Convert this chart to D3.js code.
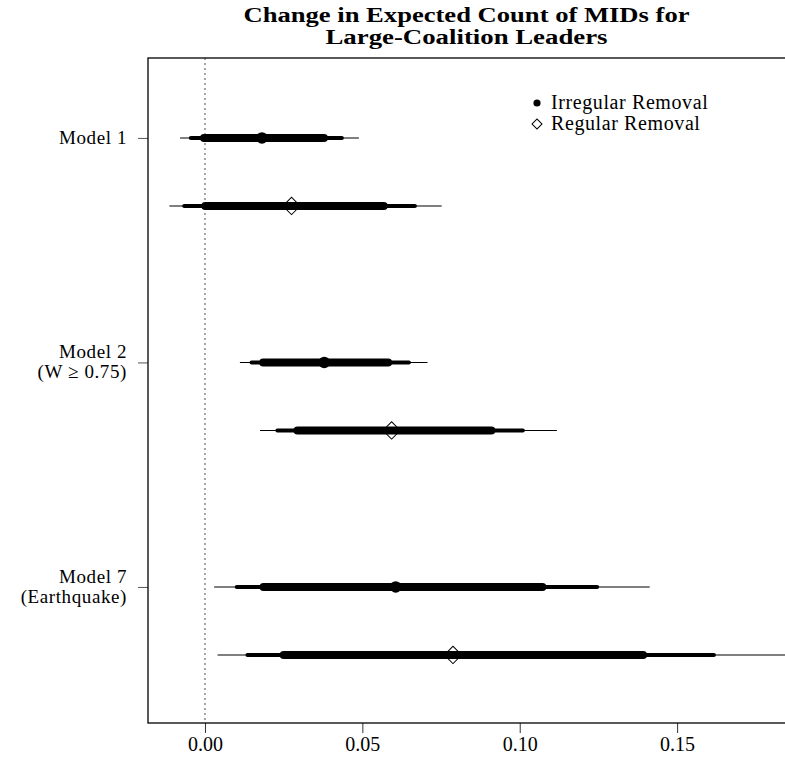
<!DOCTYPE html>
<html>
<head>
<meta charset="utf-8">
<script src="https://d3js.org/d3.v7.min.js"></script>
<style>
  body { margin: 0; background: #fff; }
  text { font-family: "Liberation Serif", "Times New Roman", serif; fill: #000; }
</style>
</head>
<body>
<div id="chart-area"></div>
<script>
//////////////////////////////////////////////
// Data //////////////////////////////////////
//////////////////////////////////////////////
var models = [["Model 1"], ["Model 2", "(W \u2265 0.75)"], ["Model 7", "(Earthquake)"]];
var xTicks = [0, 0.05, 0.10, 0.15];

// irregular removal (filled circle)
var irrPoint   = [0.0181, 0.0379, 0.0606];
var irrThinLo  = [-0.0079, 0.0111, 0.0029];
var irrThinHi  = [0.0489, 0.0707, 0.1413];
var irrMedLo   = [-0.0045, 0.0148, 0.0101];
var irrMedHi   = [0.0435, 0.0648, 0.1246];
var irrThickLo = [-0.0003, 0.0185, 0.0186];
var irrThickHi = [0.0378, 0.0582, 0.1072];

// regular removal (open diamond)
var regPoint   = [0.0275, 0.0593, 0.0788];
var regThinLo  = [-0.0113, 0.0175, 0.0040];
var regThinHi  = [0.0752, 0.1118, 0.1860];
var regMedLo   = [-0.0066, 0.0230, 0.0135];
var regMedHi   = [0.0667, 0.1010, 0.1617];
var regThickLo = [0.0001, 0.0294, 0.0250];
var regThickHi = [0.0568, 0.0910, 0.1392];

//////////////////////////////////////////////
// Chart Config /////////////////////////////
//////////////////////////////////////////////
var W = 785, H = 767;
var margin = {top: 58, right: -1, bottom: 44, left: 148};
var width = W - margin.left - margin.right,
    height = H - margin.top - margin.bottom;

var xScale = d3.scaleLinear().domain([-0.0181, 0.1846]).range([0, width]);
// rows: model index, regular removal sits 0.3 below
var yScale = d3.scaleLinear().domain([-0.356, 2.606]).range([0, height]);
var regOffset = 0.303;

var svg = d3.select("#chart-area")
    .append("svg")
    .attr("width", W)
    .attr("height", H);

var g = svg.append("g")
    .attr("transform", "translate(" + margin.left + "," + margin.top + ")");

// title (computer modern bold is wide, so stretch a bit)
var cx = margin.left + width / 2 - 0.5;
var titleLines = ["Change in Expected Count of MIDs for", "Large-Coalition Leaders"];
var titleWidths = [446, 282];
titleLines.forEach(function(s, k) {
    svg.append("text")
        .attr("x", cx)
        .attr("y", 22 + k * 22)
        .attr("text-anchor", "middle")
        .attr("textLength", titleWidths[k])
        .attr("lengthAdjust", "spacingAndGlyphs")
        .style("font-weight", "bold")
        .style("font-size", "20px")
        .text(s);
});

// zero reference line
g.append("line")
    .attr("x1", xScale(0)).attr("x2", xScale(0))
    .attr("y1", 0).attr("y2", height)
    .attr("stroke", "#777")
    .attr("stroke-width", 1.3)
    .attr("stroke-dasharray", "2,3");

//////////////////////////////////////////////
// Intervals /////////////////////////////////
//////////////////////////////////////////////
function drawRow(lo, hi, w, off) {
    g.selectAll(null)
        .data(models)
        .enter().append("line")
        .attr("x1", function(d, i) { return xScale(lo[i]); })
        .attr("x2", function(d, i) { return xScale(hi[i]); })
        .attr("y1", function(d, i) { return yScale(i + off); })
        .attr("y2", function(d, i) { return yScale(i + off); })
        .attr("stroke", "#000")
        .attr("stroke-width", w)
        .attr("stroke-linecap", w > 2 ? "round" : "butt");
}

drawRow(irrThinLo, irrThinHi, 1.1, 0);
drawRow(irrMedLo, irrMedHi, 4, 0);
drawRow(irrThickLo, irrThickHi, 8, 0);
drawRow(regThinLo, regThinHi, 1.1, regOffset);
drawRow(regMedLo, regMedHi, 4, regOffset);
drawRow(regThickLo, regThickHi, 8, regOffset);

g.selectAll(".irr")
    .data(irrPoint)
    .enter().append("circle")
    .attr("class", "irr")
    .attr("cx", function(d) { return xScale(d); })
    .attr("cy", function(d, i) { return yScale(i); })
    .attr("r", 5.8)
    .attr("fill", "#000");

var diamond = d3.symbol().type(d3.symbolSquare).size(150);
g.selectAll(".reg")
    .data(regPoint)
    .enter().append("path")
    .attr("class", "reg")
    .attr("d", diamond)
    .attr("transform", function(d, i) {
        return "translate(" + xScale(d) + "," + yScale(i + regOffset) + ") rotate(45)";
    })
    .attr("fill", "none")
    .attr("stroke", "#000")
    .attr("stroke-width", 1);

//////////////////////////////////////////////
// Axes //////////////////////////////////////
//////////////////////////////////////////////
var xAxis = d3.axisBottom(xScale)
    .tickValues(xTicks)
    .tickFormat(d3.format(".2f"))
    .tickSize(10)
    .tickPadding(4);

var xAxisEl = g.append("g")
    .attr("transform", "translate(0," + height + ")")
    .call(xAxis);
xAxisEl.select(".domain").remove();
xAxisEl.selectAll("text")
    .style("font-size", "20px")
    .style("font-family", "Liberation Serif")
    .attr("dy", "0.7em");
xAxisEl.selectAll("line").attr("stroke", "#333");

var yAxis = d3.axisLeft(yScale)
    .tickValues([0, 1, 2])
    .tickFormat("")
    .tickSize(10);
var yAxisEl = g.append("g").call(yAxis);
yAxisEl.select(".domain").remove();
yAxisEl.selectAll("line").attr("stroke", "#555");

// y labels
models.forEach(function(lines, i) {
    var t = g.append("text")
        .attr("text-anchor", "end")
        .style("font-size", "19px")
        .style("letter-spacing", "0.6px");
    var y0 = yScale(i) + (lines.length > 1 ? -4 : 6);
    lines.forEach(function(s, k) {
        t.append("tspan")
            .attr("x", -21)
            .attr("y", y0 + k * 20)
            .text(s);
    });
});

// frame
g.append("rect")
    .attr("width", width)
    .attr("height", height)
    .attr("fill", "none")
    .attr("stroke", "#000")
    .attr("stroke-width", 1.3);

//////////////////////////////////////////////
// Legend ////////////////////////////////////
//////////////////////////////////////////////
var legend = svg.append("g");
legend.append("circle")
    .attr("cx", 537).attr("cy", 103).attr("r", 3.6)
    .attr("fill", "#000");
legend.append("text")
    .attr("x", 551).attr("y", 109)
    .style("font-size", "20px")
    .style("letter-spacing", "0.6px")
    .text("Irregular Removal");
legend.append("path")
    .attr("d", d3.symbol().type(d3.symbolSquare).size(50))
    .attr("transform", "translate(537,124) rotate(45)")
    .attr("fill", "none")
    .attr("stroke", "#000")
    .attr("stroke-width", 1);
legend.append("text")
    .attr("x", 551).attr("y", 130)
    .style("font-size", "20px")
    .style("letter-spacing", "0.6px")
    .text("Regular Removal");
</script>
</body>
</html>
